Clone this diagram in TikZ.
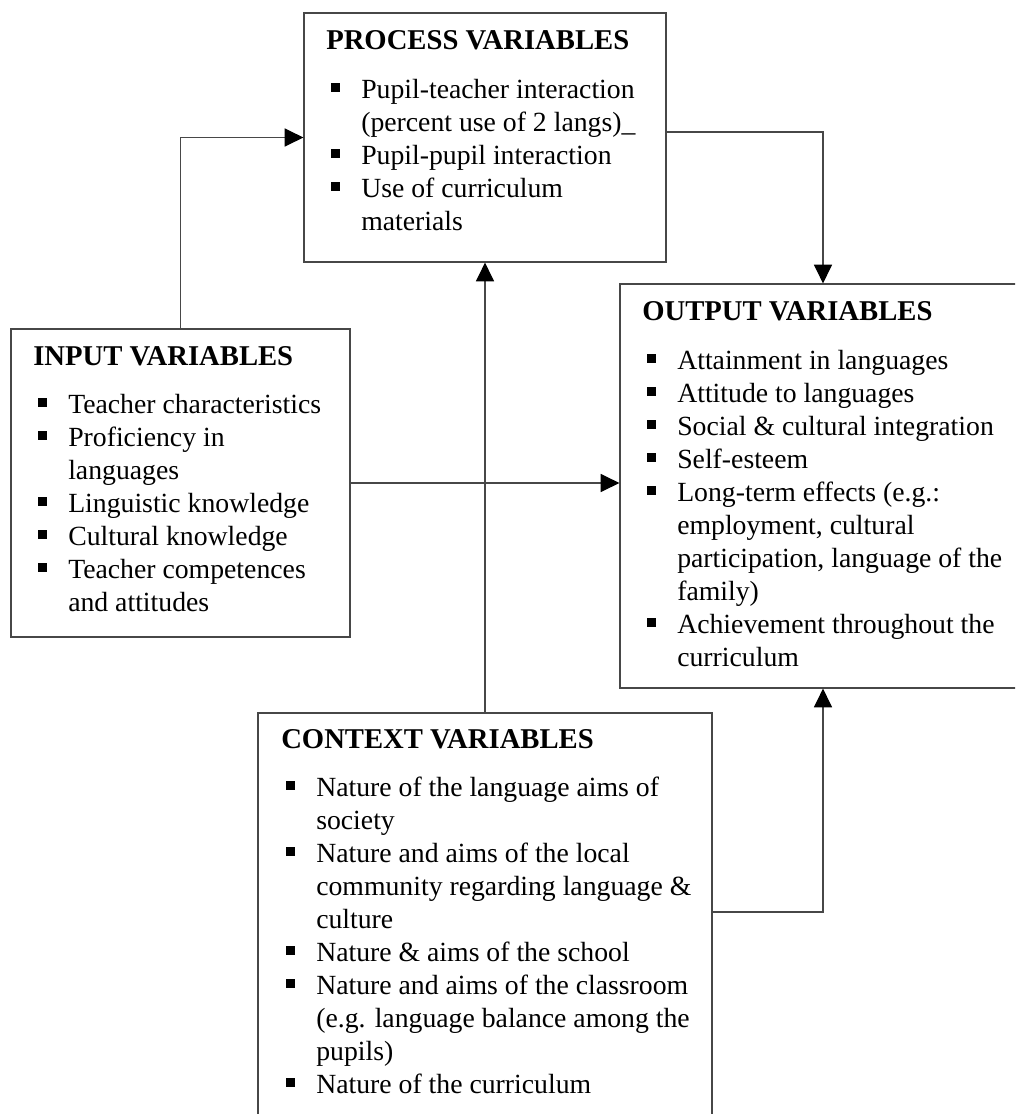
\documentclass[tikz,border=0pt]{standalone}
\usepackage{fontspec}
\setmainfont{Liberation Serif}
\usetikzlibrary{arrows.meta,fit}

% square bullet for list entries, and the indent of a wrapped line
\newcommand\bitem{\makebox[24pt][l]{\hspace{1.5pt}\raisebox{4.6pt}{\rule{6.3pt}{6.3pt}}}}
\newcommand\bcont{\hspace*{24pt}}
% a top-aligned column of lines, so that the node's base is its first line
\newenvironment{lines}{\begin{tabular}[t]{@{}l@{}}}{\end{tabular}}

\tikzset{
  frame/.style={draw=black!72, line width=0.9pt, inner sep=0pt},
  heading/.style={anchor=base west, inner sep=0pt, font=\fontsize{21.5}{26}\selectfont\bfseries},
  entries/.style={anchor=base west, inner sep=0pt, font=\fontsize{20.8}{24.75}\selectfont},
  link/.style={draw=black!72, line width=0.9pt, -{Triangle[length=14pt,width=13.5pt,black]}},
}

\begin{document}
\begin{tikzpicture}[x=0.75pt,y=-0.75pt]
\useasboundingbox (0,0) rectangle (1015,1114);
\clip (0,0) rectangle (1015,1114);
\fill[white] (0,0) rectangle (1015,1114);

% box outlines
\coordinate (p1) at (304,13);  \coordinate (p2) at (666,262);
\coordinate (i1) at (11,329);  \coordinate (i2) at (350,637);
\coordinate (o1) at (620,284); \coordinate (o2) at (1040,688);
\coordinate (c1) at (258,713); \coordinate (c2) at (712,1140);
\node[frame, fit=(p1)(p2)] (proc) {};
\node[frame, fit=(i1)(i2)] (inp) {};
\node[frame, fit=(o1)(o2)] (outp) {};
\node[frame, fit=(c1)(c2)] (ctx) {};

% process variables
\node[heading] (proch) at (326,49) {PROCESS VARIABLES};
\node[entries] (proct) at (329,98) {\begin{lines}
\bitem Pupil-teacher interaction\\
\bcont (percent use of 2 langs)\_\\
\bitem Pupil-pupil interaction\\
\bitem Use of curriculum\\
\bcont materials
\end{lines}};

% input variables
\node[heading] (inph) at (33,365) {INPUT VARIABLES};
\node[entries] (inpt) at (36,413) {\begin{lines}
\bitem Teacher characteristics\\
\bitem Proficiency in\\
\bcont languages\\
\bitem Linguistic knowledge\\
\bitem Cultural knowledge\\
\bitem Teacher competences\\
\bcont and attitudes
\end{lines}};

% output variables
\node[heading] (outph) at (642,320) {OUTPUT VARIABLES};
\node[entries] (outpt) at (645,369) {\begin{lines}
\bitem Attainment in languages\\
\bitem Attitude to languages\\
\bitem Social \& cultural integration\\
\bitem Self-esteem\\
\bitem Long-term effects (e.g.:\\
\bcont employment, cultural\\
\bcont participation, language of the\\
\bcont family)\\
\bitem Achievement throughout the\\
\bcont curriculum
\end{lines}};

% context variables
\node[heading] (ctxh) at (281,748) {CONTEXT VARIABLES};
\node[entries] (ctxt) at (284,796) {\begin{lines}
\bitem Nature of the language aims of\\
\bcont society\\
\bitem Nature and aims of the local\\
\bcont community regarding language \&\\
\bcont culture\\
\bitem Nature \& aims of the school\\
\bitem Nature and aims of the classroom\\
\bcont (e.g. language balance among the\\
\bcont pupils)\\
\bitem Nature of the curriculum
\end{lines}};

% connectors
\coordinate (rx) at (823,132);
\coordinate (cy) at (823,912);
\draw[link] (inp.north) |- (proc.west);
\draw[link] (proc.east |- rx) -| (outp.north -| rx);
\draw[link] (inp.east) -- (inp.east -| outp.west);
\draw[link] (ctx.north -| proc.south) -- (proc.south);
\draw[link] (ctx.east |- cy) -| (outp.south -| cy);
\end{tikzpicture}
\end{document}
